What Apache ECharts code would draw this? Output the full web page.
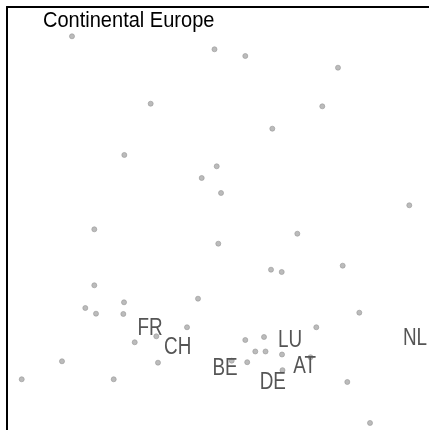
<!DOCTYPE html>
<html>
<head>
<meta charset="utf-8">
<script src="https://cdn.jsdelivr.net/npm/echarts@6/dist/echarts.min.js"></script>
<style>html,body{margin:0;padding:0;background:#fff}#c{width:429px;height:430px}</style>
</head>
<body>
<div id="c"></div>
<script>
const titleText = "Continental Europe";
const pointX = [14.94,47.70,54.78,76.09,33.03,72.48,60.99,26.97,48.21,44.76,49.20,92.48,20.07,66.74,48.57,60.69,63.15,77.17,20.07,43.91,26.90,18.00,20.46,26.74,80.99,41.38,71.10,34.32,29.36,54.78,59.08,57.08,59.43,63.22,55.22,63.33,69.77,51.66,34.71,12.64,3.38,24.53,78.23,83.45];
const pointY = [93.28,90.30,88.76,86.08,77.82,77.22,72.09,66.06,63.46,60.78,57.34,54.52,49.01,48.00,45.71,39.75,39.22,40.67,36.17,33.10,32.27,30.96,29.66,29.59,29.89,26.54,26.54,24.47,23.10,23.62,24.31,20.99,20.99,20.30,18.53,16.70,19.66,18.88,18.42,18.74,14.61,14.61,13.99,4.59];
const labelNames = ["FR","CH","BE","LU","DE","AT","NL"];
const labelX = [32.87,39.24,50.11,65.06,61.10,68.44,93.79];
const labelY = [26.38,22.13,17.27,23.62,13.99,17.66,24.15];

const chart = echarts.init(document.getElementById('c'));
const axisLine = { show: true, onZero: false, lineStyle: { color: '#000', width: 2 } };
chart.setOption({
  animation: false,
  backgroundColor: '#fff',
  graphic: [{
    type: 'text', x: 43, y: 10, scaleX: 0.91, z: 100,
    style: { text: titleText, font: '22px "Liberation Sans", Arial, sans-serif', fill: '#000',
             align: 'left', verticalAlign: 'top' }
  }],
  grid: { left: 7, top: 7, right: 0, bottom: 0, show: false },
  xAxis: { type: 'value', min: 0, max: 97.01, position: 'top', axisLine: axisLine,
           axisTick: { show: false }, axisLabel: { show: false }, splitLine: { show: false } },
  yAxis: { type: 'value', min: 2.98, max: 100, position: 'left', axisLine: axisLine,
           axisTick: { show: false }, axisLabel: { show: false }, splitLine: { show: false } },
  series: [
    {
      type: 'scatter', symbol: 'circle', symbolSize: 5, z: 2,
      itemStyle: { color: '#aaaaaa', borderColor: '#999', borderWidth: 0.8 },
      data: pointX.map((x, i) => [x, pointY[i]])
    },
    {
      type: 'custom', z: 3,
      data: labelNames.map((n, i) => [labelX[i], labelY[i], n]),
      renderItem: function (params, api) {
        const pt = api.coord([api.value(0), api.value(1)]);
        return {
          type: 'text', x: pt[0], y: pt[1] + 1, scaleX: 0.82,
          style: {
            text: labelNames[params.dataIndex],
            font: '23px "Liberation Sans", Arial, sans-serif',
            fill: '#555555', align: 'center', verticalAlign: 'middle'
          }
        };
      }
    }
  ]
});
</script>
</body>
</html>
